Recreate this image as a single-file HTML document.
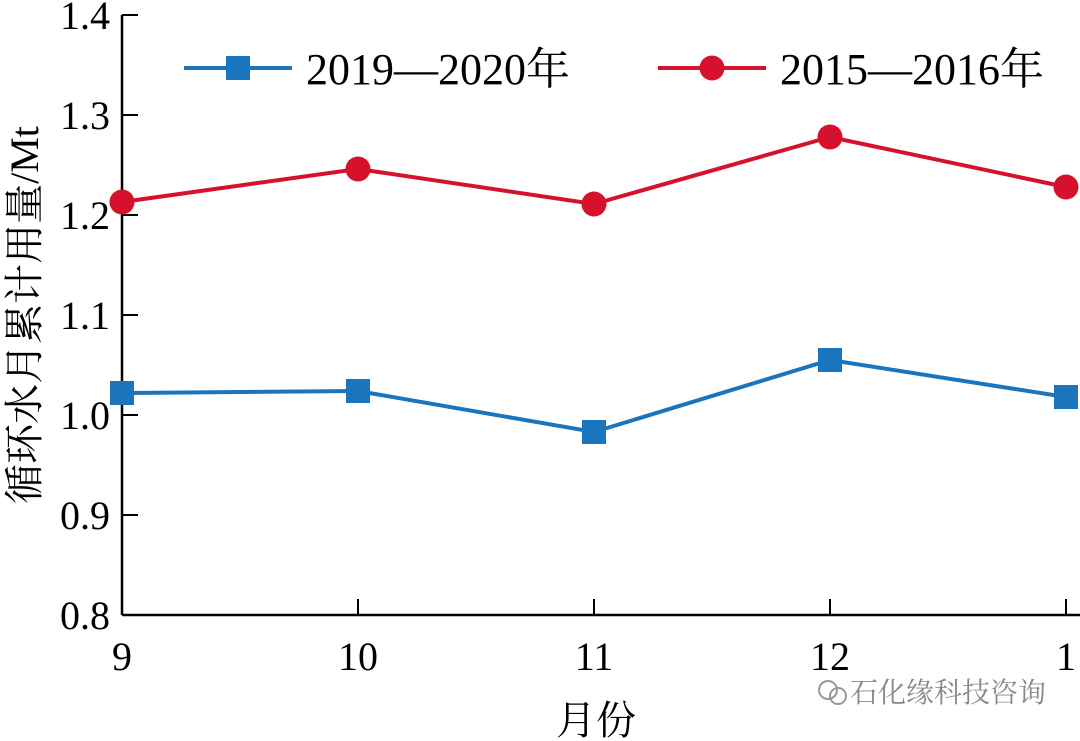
<!DOCTYPE html>
<html><head><meta charset="utf-8"><style>
html,body{margin:0;padding:0;background:#fff;width:1080px;height:741px;overflow:hidden}
text{font-family:"Liberation Serif","Noto Serif CJK SC",serif;fill:#000}
</style></head><body>
<svg id="chart" width="1080" height="741" viewBox="0 0 1080 741" xmlns="http://www.w3.org/2000/svg">
<g id="axes"></g><g id="series"></g><g id="legend"></g>
<text x="596" y="734" font-size="40" text-anchor="middle">月份</text>
<text transform="translate(38,315) rotate(-90)" font-size="40" text-anchor="middle">循环水月累计用量/Mt</text>
<g>
<circle cx="828" cy="690" r="9" fill="none" stroke="#999" stroke-width="2"/>
<circle cx="838" cy="696" r="8" fill="none" stroke="#999" stroke-width="2"/>
<text x="850" y="702" font-size="28" style="fill:#888">石化缘科技咨询</text>
</g>
</svg>
<script>
const categories = ["9","10","11","12","1"];
const series2019 = [1.022,1.024,0.983,1.055,1.018];
const series2015 = [1.213,1.246,1.211,1.278,1.228];
const yTicks = [0.8,0.9,1.0,1.1,1.2,1.3,1.4];
const yTickLabels = ["0.8","0.9","1.0","1.1","1.2","1.3","1.4"];
const NS="http://www.w3.org/2000/svg";
const x0=122,xStep=236,yBase=615,yTop=15,yMin=0.8,yMax=1.4;
const xs=i=>x0+i*xStep;
const ys=v=>yBase-(v-yMin)/(yMax-yMin)*(yBase-yTop);
function mk(tag,attrs,parent){const e=document.createElementNS(NS,tag);for(const k in attrs)e.setAttribute(k,attrs[k]);parent.appendChild(e);return e;}
const axes=document.getElementById('axes');
const xa=mk('line',{x1:x0,y1:yBase,x2:1080,y2:yBase,stroke:'#000','stroke-width':2.5},axes);


const ya=mk('line',{x1:x0,y1:yBase,x2:x0,y2:yTop,stroke:'#000','stroke-width':2.5},axes);


yTicks.forEach((v,i)=>{
  const y=ys(v);
  if(i>0){const t=mk('line',{x1:x0,y1:y,x2:x0+16,y2:y,stroke:'#000','stroke-width':2},axes);
  
  }
  const l=mk('text',{x:x0-12,y:y+14,'font-size':40,'text-anchor':'end'},axes);
  l.textContent=yTickLabels[i];
  
  
});
categories.forEach((c,i)=>{
  const x=xs(i);
  if(i>0){const t=mk('line',{x1:x,y1:yBase,x2:x,y2:yBase-16,stroke:'#000','stroke-width':2},axes);
  
  }
  const l=mk('text',{x:x,y:670,'font-size':40,'text-anchor':'middle'},axes);
  l.textContent=c;
  
  
});
const sg=document.getElementById('series');
function drawSeries(vals,color,shape,name){
  const g=mk('g',{},sg);
  
  
  const pts=vals.map((v,i)=>xs(i)+','+ys(v)).join(' ');
  const pl=mk('polyline',{points:pts,fill:'none',stroke:color,'stroke-width':4},g);
  
  
  vals.forEach((v,i)=>{
    let m;
    if(shape==='square') m=mk('rect',{x:xs(i)-12,y:ys(v)-12,width:24,height:24,fill:color},g);
    else m=mk('circle',{cx:xs(i),cy:ys(v),r:12.5,fill:color},g);
    
    
  });
}
drawSeries(series2019,'#1a75bc','square','series-2019-2020');
drawSeries(series2015,'#d7102b','circle','series-2015-2016');
const lg=document.getElementById('legend');
function legendEntry(x,color,shape,label,name){
  const g=mk('g',{},lg);
  
  
  mk('line',{x1:x,y1:68,x2:x+108,y2:68,stroke:color,'stroke-width':4},g);
  if(shape==='square') mk('rect',{x:x+42,y:56,width:24,height:24,fill:color},g);
  else mk('circle',{cx:x+54,cy:68,r:12.5,fill:color},g);
  const t=mk('text',{x:x+122,y:84,'font-size':44},g);
  t.textContent=label;
}
legendEntry(184,'#1a75bc','square','2019—2020年','legend-entry-2019-2020');
legendEntry(658,'#d7102b','circle','2015—2016年','legend-entry-2015-2016');
</script>
</body></html>
